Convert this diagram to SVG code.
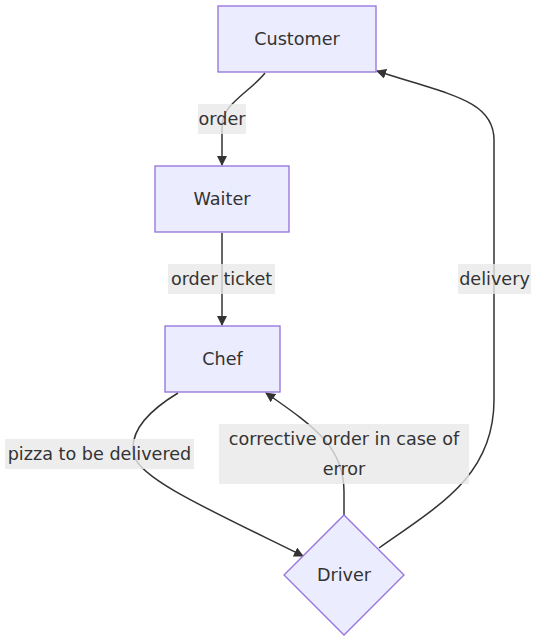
<svg xmlns="http://www.w3.org/2000/svg" width="540" height="642" viewBox="0 0 540 642">
<style>
.node rect,.node polygon{fill:#ECECFF;stroke:#9370DB;stroke-width:1.3}
.edge{fill:none;stroke:#333;stroke-width:1.5}
text{font-family:"DejaVu Sans",sans-serif;font-size:17.6px;fill:#333;text-anchor:middle;dominant-baseline:central}
.lbl rect{fill:#e8e8e8;fill-opacity:0.8}
</style>
<defs>
<marker id="ah" viewBox="0 0 10 10" refX="9" refY="5" markerWidth="10" markerHeight="10" markerUnits="userSpaceOnUse" orient="auto-start-reverse">
<path d="M0,0 L10,5 L0,10 z" fill="#333"/>
</marker>
</defs>
<rect width="540" height="642" fill="#fff"/>
<g id="edges">
<path class="edge" d="M265,73 C250,92 222,104 222,126 L222,165" marker-end="url(#ah)"/>
<path class="edge" d="M222,233 L222,325" marker-end="url(#ah)"/>
<path class="edge" d="M178,393 C150,410 128,432 134,456 C142,480 210,510 303,556" marker-end="url(#ah)"/>
<path class="edge" d="M344,515 L344,492 C344,450 320,430 266,393" marker-end="url(#ah)"/>
<path class="edge" d="M379,548 C440,505 494,475 494,400 L494,140 C494,100 450,95 377,71" marker-end="url(#ah)"/>
</g>
<g id="label-order" class="lbl"><rect x="198" y="104" width="48" height="30"/><text x="222" y="119">order</text></g>
<g id="label-order-ticket" class="lbl"><rect x="168" y="264" width="107" height="30"/><text x="221.5" y="279">order ticket</text></g>
<g id="label-pizza" class="lbl"><rect x="5" y="439" width="189" height="30"/><text x="99.5" y="454">pizza to be delivered</text></g>
<g id="label-corrective" class="lbl"><rect x="219" y="424" width="250" height="60"/><text x="344" y="439">corrective order in case of</text><text x="344" y="469">error</text></g>
<g id="label-delivery" class="lbl"><rect x="458" y="264" width="73" height="30"/><text x="494.5" y="279">delivery</text></g>
<g id="customer" class="node"><rect x="218" y="6" width="158" height="66"/><text x="297" y="39">Customer</text></g>
<g id="waiter" class="node"><rect x="155" y="166" width="134" height="66"/><text x="222" y="199">Waiter</text></g>
<g id="chef" class="node"><rect x="165" y="326" width="115" height="66"/><text x="222.5" y="359">Chef</text></g>
<g id="driver" class="node"><polygon points="344,515 404,575 344,635 284,575"/><text x="344" y="575">Driver</text></g>
</svg>
